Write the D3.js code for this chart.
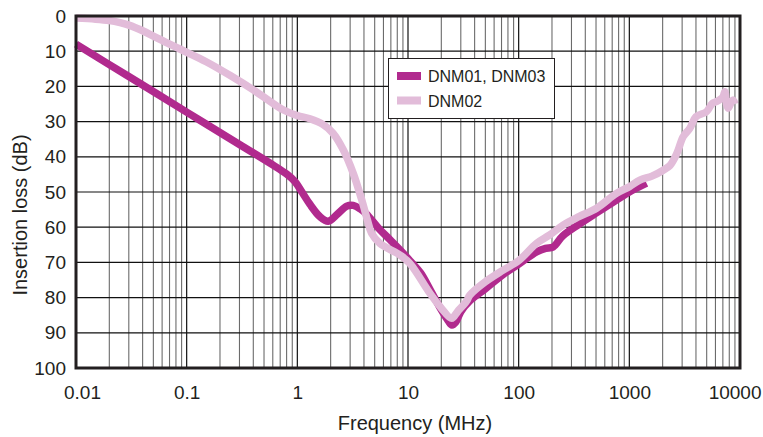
<!DOCTYPE html>
<html>
<head>
<meta charset="utf-8">
<script src="https://cdn.jsdelivr.net/npm/d3@7"></script>
<style>
  html, body { margin: 0; padding: 0; background: #fff; }
  svg { display: block; font-family: "Liberation Sans", Arial, Helvetica, sans-serif; }
</style>
</head>
<body>
<svg id="chart" width="763" height="437"></svg>
<script>
// ---- data ----
const xTickValues = [0.01, 0.1, 1, 10, 100, 1000, 10000];
const xTickLabels = ["0.01", "0.1", "1", "10", "100", "1000", "10000"];
const yTickValues = [0, 10, 20, 30, 40, 50, 60, 70, 80, 90, 100];
const seriesNames = ["DNM01, DNM03", "DNM02"];

const dnm01Freq = [0.01, 0.03, 0.1, 0.3, 0.6, 0.8, 0.95, 1.1, 1.3, 1.6, 1.9, 2.3, 2.8, 3.2, 3.7, 4.2, 5.5, 6.9, 8.5, 10.4, 13, 16, 20, 23, 25, 27, 30, 36, 50, 72, 100, 145, 175, 205, 250, 350, 500, 765, 1000, 1430];
const dnm01Loss = [8, 17.2, 27.3, 36.5, 42.3, 44.9, 47, 50, 53.5, 57, 58.3, 56.3, 54, 53.8, 54.8, 56.2, 60.5, 63.6, 66.5, 69.5, 73, 78, 83.5, 86.5, 87.8, 87, 84, 81, 77.5, 73.5, 70.5, 67, 66, 65.6, 62.5, 59.2, 56, 52.3, 50, 47.5];

const dnm02Freq = [0.01, 0.015, 0.02, 0.025, 0.03, 0.04, 0.05, 0.07, 0.1, 0.15, 0.25, 0.4, 0.57, 0.75, 1.0, 1.3, 1.7, 2.1, 2.6, 3.2, 3.8, 4.3, 4.69, 5.57, 8.45, 10.4, 15.8, 20, 24.8, 28, 33.8, 36.2, 50, 72.4, 100, 145, 191, 252, 350, 506, 765, 1000, 1245, 1600, 2023, 2322, 2600, 2762, 3063, 3524, 4000, 4980, 5630, 6136, 7000, 7300, 7550, 7820, 8400, 8670, 9000];
const dnm02Loss = [0.6, 0.9, 1.3, 1.9, 2.6, 4.2, 5.7, 8, 10.3, 13, 17, 21, 24.3, 26.7, 28.3, 29.2, 30.8, 33.3, 38, 44.7, 52, 58, 61.7, 64.6, 67.9, 70.3, 78.8, 83, 85.9, 84, 81, 79.3, 75.5, 72.2, 69.5, 64.6, 62.2, 59.4, 57, 54.6, 50.4, 48.5, 46.6, 45.5, 43.8, 42.5, 40, 38.1, 34.3, 31.9, 28.6, 27.2, 24.8, 24.3, 23, 21.5, 25, 26.2, 24.3, 23.9, 25];

const seriesColors = ["#b12a8e", "#e2bcd9"];

// ---- layout ----
const svg = d3.select("#chart");
const pLeft = 76, pRight = 740, pTop = 16, pBottom = 368;

const x = d3.scaleLog().domain([0.01, 10000]).range([pLeft, pRight]);
const y = d3.scaleLinear().domain([0, 100]).range([pTop, pBottom]);

// minor vertical grid
const minorTicks = [];
for (let e = -2; e < 4; e++) {
  for (let m = 2; m <= 9; m++) minorTicks.push(m * Math.pow(10, e));
}
svg.append("g").selectAll("line").data(minorTicks).join("line")
  .attr("x1", d => x(d)).attr("x2", d => x(d))
  .attr("y1", pTop).attr("y2", pBottom)
  .attr("stroke", "#6b6b6b").attr("stroke-width", 1.1);

// major vertical grid
svg.append("g").selectAll("line").data(xTickValues).join("line")
  .attr("x1", d => x(d)).attr("x2", d => x(d))
  .attr("y1", pTop).attr("y2", pBottom)
  .attr("stroke", "#111").attr("stroke-width", 1.2);

// horizontal grid
svg.append("g").selectAll("line").data(yTickValues).join("line")
  .attr("x1", pLeft).attr("x2", pRight)
  .attr("y1", d => y(d)).attr("y2", d => y(d))
  .attr("stroke", "#111").attr("stroke-width", 1.2);

// series lines
const line = d3.line().x(d => x(d[0])).y(d => y(d[1])).curve(d3.curveCatmullRom.alpha(0.5));
const s1 = dnm01Freq.map((f, i) => [f, dnm01Loss[i]]);
const s2 = dnm02Freq.map((f, i) => [f, dnm02Loss[i]]);

svg.append("path").datum(s1).attr("d", line)
  .attr("fill", "none").attr("stroke", seriesColors[0])
  .attr("stroke-width", 7.5).attr("stroke-linejoin", "round").attr("stroke-linecap", "butt");
svg.append("path").datum(s2).attr("d", line)
  .attr("fill", "none").attr("stroke", seriesColors[1])
  .attr("stroke-width", 7.5).attr("stroke-linejoin", "round").attr("stroke-linecap", "butt");

// frame
svg.append("rect").attr("x", pLeft).attr("y", pTop)
  .attr("width", pRight - pLeft).attr("height", pBottom - pTop)
  .attr("fill", "none").attr("stroke", "#231f20").attr("stroke-width", 3);

// axes (labels only)
const xAxis = d3.axisBottom(x).tickValues(xTickValues)
  .tickFormat((d, i) => xTickLabels[i]).tickSize(0).tickPadding(18);
const gx = svg.append("g").attr("transform", `translate(0,${pBottom})`).call(xAxis);
gx.select(".domain").remove();
gx.selectAll("text").attr("font-size", 19).attr("fill", "#231f20")
  .attr("font-family", "Liberation Sans, Arial, sans-serif");
// keep the end labels inside the picture, as in the reference
gx.selectAll("text").filter((d, i, n) => i === 0).attr("dx", 6);
gx.selectAll("text").filter((d, i, n) => i === n.length - 1)
  .attr("text-anchor", "end").attr("dx", 21);

const yAxis = d3.axisLeft(y).tickValues(yTickValues).tickSize(0).tickPadding(10);
const gy = svg.append("g").attr("transform", `translate(${pLeft},0)`).call(yAxis);
gy.select(".domain").remove();
gy.selectAll("text").attr("font-size", 19).attr("fill", "#231f20")
  .attr("font-family", "Liberation Sans, Arial, sans-serif");

// axis titles
svg.append("text").attr("x", 415).attr("y", 430)
  .attr("text-anchor", "middle").attr("font-size", 20).attr("fill", "#231f20")
  .text("Frequency (MHz)");
svg.append("text").attr("transform", "translate(27,215) rotate(-90)")
  .attr("text-anchor", "middle").attr("font-size", 20).attr("fill", "#231f20")
  .text("Insertion loss (dB)");

// legend
const lg = svg.append("g");
lg.append("rect").attr("x", 388.5).attr("y", 58.5).attr("width", 166).attr("height", 60)
  .attr("fill", "#fff").attr("stroke", "#231f20").attr("stroke-width", 1);
seriesNames.forEach((name, i) => {
  const cy = 76 + i * 24.5;
  lg.append("rect").attr("x", 397).attr("y", cy - 4).attr("width", 24).attr("height", 8)
    .attr("fill", seriesColors[i]);
  lg.append("text").attr("x", 428).attr("y", cy + 6)
    .attr("font-size", 16).attr("fill", "#231f20").text(name);
});
</script>
</body>
</html>
